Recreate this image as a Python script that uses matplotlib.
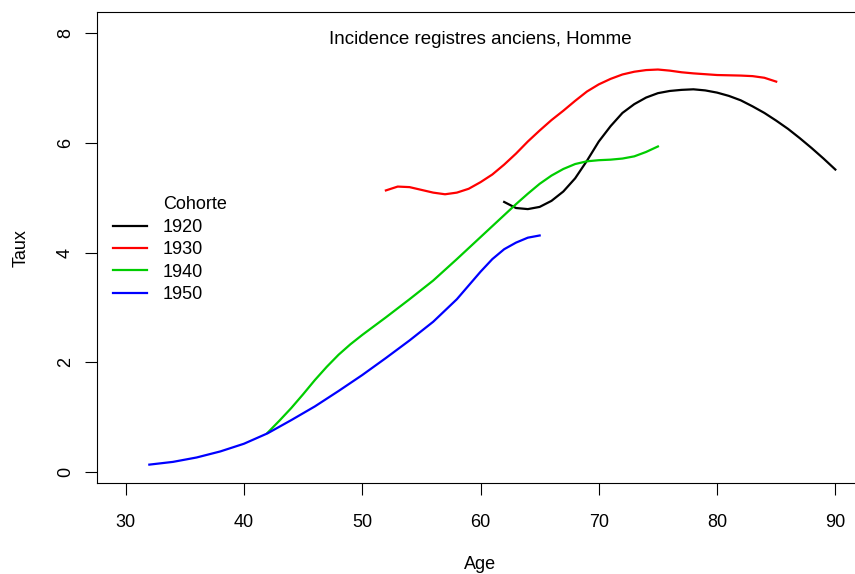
import matplotlib
matplotlib.use("Agg")
import matplotlib.pyplot as plt
import matplotlib.transforms as mtransforms
from matplotlib.lines import Line2D

plt.rcParams["font.family"] = ["Liberation Sans", "DejaVu Sans"]

# ── Data ────────────────────────────────────────────────────────────────────
age_1920 = [62, 63, 64, 65, 66, 67, 68, 69, 70, 71, 72, 73, 74, 75, 76,
            77, 78, 79, 80, 81, 82, 83, 84, 85, 86, 87, 88, 89, 90]
taux_1920 = [4.92, 4.81, 4.79, 4.83, 4.94, 5.11, 5.35, 5.67, 6.02, 6.30,
             6.54, 6.70, 6.82, 6.90, 6.94, 6.96, 6.97, 6.95, 6.91, 6.85,
             6.77, 6.66, 6.54, 6.40, 6.25, 6.08, 5.90, 5.71, 5.51]

age_1930 = [52, 53, 54, 55, 56, 57, 58, 59, 60, 61, 62, 63, 64, 65, 66,
            67, 68, 69, 70, 71, 72, 73, 74, 75, 76, 77, 78, 80, 82, 83,
            84, 85]
taux_1930 = [5.13, 5.20, 5.19, 5.14, 5.09, 5.06, 5.09, 5.16, 5.28, 5.42,
             5.60, 5.80, 6.02, 6.22, 6.41, 6.58, 6.76, 6.93, 7.06, 7.16,
             7.24, 7.29, 7.32, 7.33, 7.31, 7.28, 7.26, 7.23, 7.22, 7.21,
             7.18, 7.11]

age_1940 = [42, 43, 44, 45, 46, 47, 48, 49, 50, 52, 54, 56, 58, 60, 62,
            63, 64, 65, 66, 67, 68, 69, 70, 71, 72, 73, 74, 75]
taux_1940 = [0.72, 0.94, 1.17, 1.42, 1.68, 1.92, 2.14, 2.33, 2.50, 2.82,
             3.15, 3.49, 3.88, 4.28, 4.68, 4.88, 5.07, 5.25, 5.40, 5.52,
             5.61, 5.66, 5.68, 5.69, 5.71, 5.75, 5.83, 5.93]

age_1950 = [32, 34, 36, 38, 40, 42, 44, 46, 48, 50, 52, 54, 56, 58, 60,
            61, 62, 63, 64, 65]
taux_1950 = [0.14, 0.19, 0.27, 0.38, 0.52, 0.71, 0.95, 1.20, 1.48, 1.77,
             2.08, 2.40, 2.74, 3.15, 3.65, 3.88, 4.06, 4.18, 4.27, 4.31]

cohorts = ["1920", "1930", "1940", "1950"]
colours = ["black", "#FF0000", "#00CD00", "#0000FF"]

x_ticks = [30, 40, 50, 60, 70, 80, 90]
y_ticks = [0, 2, 4, 6, 8]


def main():
    fig = plt.figure(figsize=(8.55, 5.74), dpi=100)
    ax = fig.add_axes([0.1131, 0.158, 0.8978, 0.8211])

    series = [(age_1920, taux_1920), (age_1930, taux_1930),
              (age_1940, taux_1940), (age_1950, taux_1950)]
    handles = [Line2D([], [], color="none")]
    labels = ["Cohorte"]
    for (a, t), name, col in zip(series, cohorts, colours):
        ln, = ax.plot(a, t, color=col, linewidth=1.6)
        handles.append(ln)
        labels.append(name)

    ax.set_xlim(27.55, 92.45)
    ax.set_ylim(-0.2, 8.377)
    ax.set_xticks(x_ticks)
    ax.set_yticks(y_ticks)
    ax.tick_params(direction="out", length=8.3, width=0.8, labelsize=13)
    ax.tick_params(axis="x", pad=14)
    ax.tick_params(axis="y", pad=8)
    for lab in ax.get_yticklabels():
        lab.set_rotation(90)
        lab.set_va("center")
    for s in ax.spines.values():
        s.set_linewidth(0.8)

    ax.set_xlabel("Age", fontsize=13, labelpad=18)
    ax.set_ylabel("Taux", fontsize=13, labelpad=20)

    # title sits inside the box: centred on the axes, fixed height in figure
    trans = mtransforms.blended_transform_factory(ax.transAxes, fig.transFigure)
    ax.text(0.5, 1 - 39 / 574, "Incidence registres anciens, Homme",
            transform=trans, ha="center", va="center", fontsize=13.5)

    ax.legend(handles, labels, loc="upper left", frameon=False,
              bbox_to_anchor=(0.012, 0.624), fontsize=13, handlelength=1.85,
              handletextpad=0.9, labelspacing=0.3, borderaxespad=0)

    fig.savefig("out.png", dpi=100)
    plt.close(fig)


if __name__ == "__main__":
    main()
